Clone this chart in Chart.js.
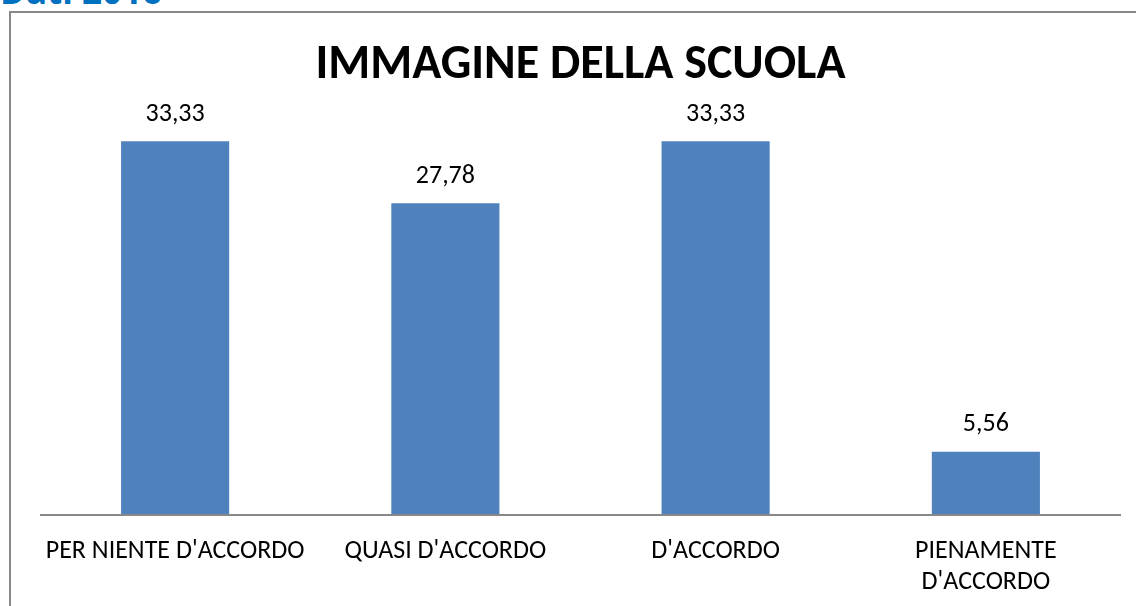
<!DOCTYPE html>
<html>
<head>
<meta charset="utf-8">
<script src="https://cdn.jsdelivr.net/npm/chart.js@4.4.0/dist/chart.umd.min.js"></script>
<style>
  html, body { margin: 0; padding: 0; width: 1136px; height: 606px; overflow: hidden; background: #fff; }
  #dati { position: absolute; left: 0; top: -33px; font-family: 'Open Sans', sans-serif; font-weight: bold; font-size: 35px; color: #0070C0; white-space: nowrap; }
  #frame { position: absolute; left: 9px; top: 11px; width: 1200px; height: 700px; border: 2px solid #888; }
  #wrap { position: absolute; left: 0; top: 0; width: 1136px; height: 606px; }
</style>
</head>
<body>
<div id="dati">Dati 2016</div>
<div id="frame"></div>
<div id="wrap"><canvas id="chart"></canvas></div>
<script>
const categories = ["PER NIENTE D'ACCORDO", "QUASI D'ACCORDO", "D'ACCORDO", ['PIENAMENTE', "D'ACCORDO"]];
const values = [33.33, 27.78, 33.33, 5.56];
const chartTitle = 'IMMAGINE DELLA SCUOLA';

const fontFamily = "Carlito, 'Open Sans', sans-serif";

// baseline under the bars + value labels on top
const valueLabels = {
  id: 'valueLabels',
  afterDatasetsDraw(chart) {
    const ctx = chart.ctx;
    const x = chart.scales.x;
    const meta = chart.getDatasetMeta(0);
    const half = (x.getPixelForValue(1) - x.getPixelForValue(0)) / 2;
    const y0 = chart.chartArea.bottom + 1;
    ctx.save();
    ctx.strokeStyle = '#888';
    ctx.lineWidth = 2;
    ctx.beginPath();
    ctx.moveTo(x.getPixelForValue(0) - half, y0);
    ctx.lineTo(x.getPixelForValue(categories.length - 1) + half, y0);
    ctx.stroke();
    ctx.font = '26px ' + fontFamily;
    ctx.fillStyle = '#000';
    ctx.textAlign = 'center';
    ctx.textBaseline = 'middle';
    meta.data.forEach((bar, i) => {
      ctx.fillText(values[i].toFixed(2).replace('.', ','), bar.x, bar.y - 27);
    });
    ctx.restore();
  }
};

const ctx = document.getElementById('chart').getContext('2d');
new Chart(ctx, {
  type: 'bar',
  data: {
    labels: categories,
    datasets: [{
      data: values,
      backgroundColor: '#4F81BD',
      barPercentage: 0.4,
      categoryPercentage: 1
    }]
  },
  options: {
    responsive: true,
    maintainAspectRatio: false,
    animation: false,
    layout: { padding: { left: 40, right: 15, top: 0, bottom: 11 } },
    plugins: {
      legend: { display: false },
      tooltip: { enabled: false },
      title: {
        display: true,
        text: chartTitle,
        color: '#000',
        font: { family: fontFamily, size: 48, weight: 'bold', lineHeight: 1.2 },
        padding: { top: 37, bottom: 28 }
      }
    },
    scales: {
      x: {
        grid: { display: false },
        border: { display: false },
        afterFit: (scale) => { scale.height = 81; },
        ticks: {
          color: '#000',
          padding: 14,
          maxRotation: 0,
          autoSkip: false,
          font: { family: fontFamily, size: 26, lineHeight: 1.2 }
        }
      },
      y: {
        display: false,
        min: 0,
        max: 35
      }
    }
  },
  plugins: [valueLabels]
});
</script>
</body>
</html>
